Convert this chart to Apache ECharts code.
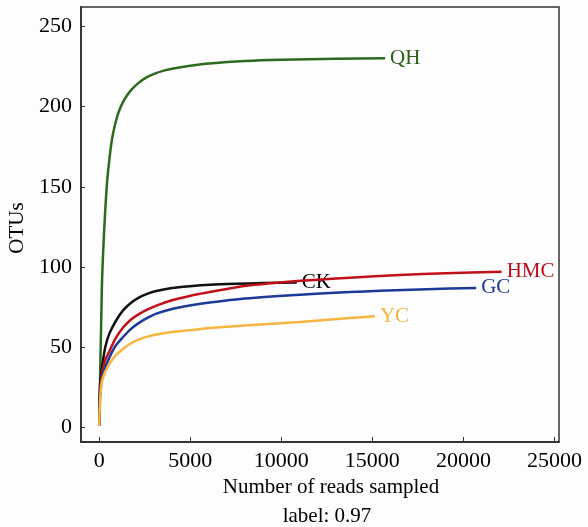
<!DOCTYPE html>
<html>
<head>
<meta charset="utf-8">
<script src="https://cdn.jsdelivr.net/npm/echarts@6/dist/echarts.min.js"></script>
<style>
html,body{margin:0;padding:0;background:#fdfdfd;}
#main{width:588px;height:527px;}
</style>
</head>
<body>
<div id="main"></div>
<script>
var seriesNames = ['QH', 'CK', 'HMC', 'GC', 'YC'];
var xTicks = [0, 5000, 10000, 15000, 20000, 25000];
var yTicks = [0, 50, 100, 150, 200, 250];

var dataQH = [[0,1],[40,25],[80,50],[120,72],[154,91],[200,105],[264,121],[330,135],[395,147],[480,159],[577,169],[660,176.5],[758,183],[900,190],[1033,195.5],[1250,201.5],[1495,206.4],[1800,210.8],[2130,214.4],[2550,217.8],[3050,220.5],[3600,222.5],[4150,223.9],[5000,225.4],[6070,226.8],[8000,228.3],[10000,229.1],[13000,229.7],[15700,230]];
var dataCK = [[0,1],[40,25],[100,33],[210,42],[350,51],[577,59],[945,67],[1310,73],[1750,77.8],[2225,81.3],[2700,83.6],[3140,85.1],[4000,87],[4970,88.1],[6070,89],[7500,89.6],[9000,90],[10850,90.3]];
var dataHMC = [[0,1],[40,20],[120,31],[300,41],[577,48],[900,55.5],[1310,62.3],[1750,67.3],[2225,71],[2700,73.8],[3140,76],[4000,79.3],[4970,82],[6070,84.4],[7000,86.3],[8270,88.6],[9920,90.4],[11800,92],[13760,93.4],[16510,95],[19000,96.2],[22100,97]];
var dataGC = [[0,1],[40,18],[210,33.5],[577,44],[900,51],[1310,56.4],[1750,61.5],[2225,65.5],[2700,68.6],[3140,71],[4000,73.9],[4970,76],[6070,77.9],[8000,80.4],[11020,82.8],[13760,84.4],[15410,85.2],[18000,86.2],[20700,87]];
var dataYC = [[0,1],[40,14],[120,27],[300,34],[577,40],[900,45],[1310,49],[1750,52.5],[2225,55.1],[2700,56.8],[3140,58],[4000,59.6],[4970,60.7],[6070,62],[8000,63.6],[11020,65.8],[13760,68.2],[15140,69.4]];

var seriesData = [dataQH, dataCK, dataHMC, dataGC, dataYC];
var colors = ['#2e6a1b', '#111111', '#c0101c', '#1c3a98', '#f4b63e'];
var labelColors = ['#2d5f16', '#000000', '#b80f1a', '#1c3a98', '#f3b43c'];

var FONT = '"Liberation Serif", "Times New Roman", serif';
var chart = echarts.init(document.getElementById('main'), null, {renderer: 'canvas'});

var series = seriesNames.map(function (name, i) {
  return {
    name: name,
    type: 'line',
    data: seriesData[i],
    showSymbol: false,
    smooth: 0.25,
    lineStyle: {color: colors[i], width: 2.5},
    itemStyle: {color: colors[i]},
    endLabel: {
      show: true,
      formatter: '{a}',
      color: labelColors[i],
      fontFamily: FONT,
      fontSize: 21,
      distance: 5
    },
    z: 2 + i
  };
});

chart.setOption({
  backgroundColor: '#fdfdfd',
  animation: false,
  grid: {left: 81, right: 29, top: 7, bottom: 85, show: true, borderColor: '#333', borderWidth: 1.5, backgroundColor: 'transparent'},
  xAxis: {
    type: 'value',
    min: -1000,
    max: 25250,
    splitLine: {show: false},
    axisLine: {show: true, onZero: false, lineStyle: {color: '#333', width: 1.8}},
    axisTick: {show: true, inside: true, length: 5, customValues: xTicks, lineStyle: {color: '#333'}},
    axisLabel: {customValues: xTicks, formatter: function (v) { return String(v); }, color: '#000', fontFamily: FONT, fontSize: 22, margin: 8}
  },
  yAxis: {
    type: 'value',
    min: -9,
    max: 262,
    splitLine: {show: false},
    axisLine: {show: true, onZero: false, lineStyle: {color: '#333', width: 1.8}},
    axisTick: {show: true, inside: true, length: 4, customValues: yTicks, lineStyle: {color: '#333'}},
    axisLabel: {customValues: yTicks, formatter: function (v) { return String(v); }, color: '#000', fontFamily: FONT, fontSize: 22, margin: 9}
  },
  graphic: [
    {type: 'text', x: 331, y: 487, style: {text: 'Number of reads sampled', fill: '#000', font: '21px ' + FONT, textAlign: 'center', textVerticalAlign: 'middle'}},
    {type: 'text', x: 327, y: 516, style: {text: 'label: 0.97', fill: '#000', font: '21px ' + FONT, textAlign: 'center', textVerticalAlign: 'middle'}},
    {type: 'text', x: 17, y: 228, rotation: Math.PI / 2, style: {text: 'OTUs', fill: '#000', font: '21px ' + FONT, textAlign: 'center', textVerticalAlign: 'middle'}}
  ],
  series: series
});
</script>
</body>
</html>
